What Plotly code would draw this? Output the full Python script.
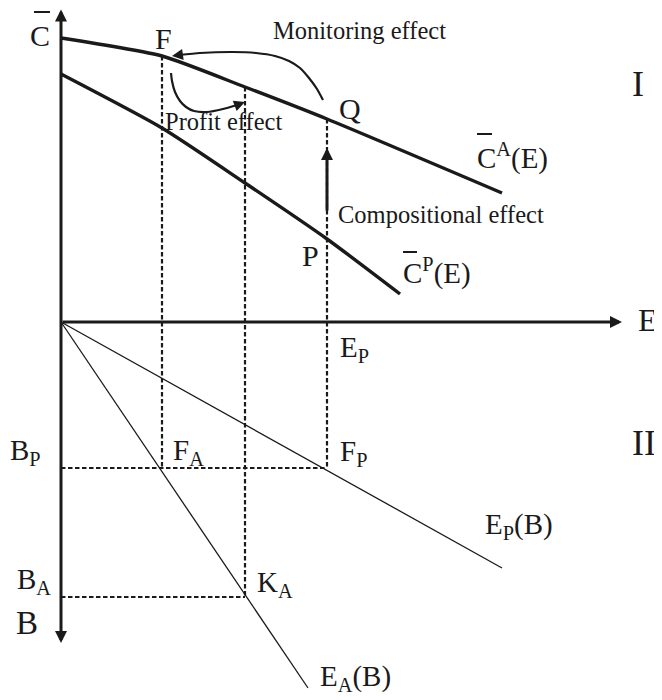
import plotly.graph_objects as go

# ---------------- data (diagram units: E to the right, C up, B down) ----------------
E_CA = [0, 101, 184, 266, 441]
C_A = [284, 266, 235, 203, 129]          # C-bar^A(E)
E_CP = [0, 101, 184, 266, 339]
C_P = [248, 194, 139, 83, 28]            # C-bar^P(E)

E_EP = [0, 441]
B_EP = [0, -246]                         # E_P(B)
E_EA = [0, 247]
B_EA = [0, -366]                         # E_A(B)

E_F, E_K, E_Pv = 101, 184, 266           # F, K_A, E_P positions on E axis
B_Pv, B_Av = -146, -275                  # B_P, B_A positions on B axis

# monitoring effect curve (Q -> F) and profit effect curve
MON_E = [262, 256, 248, 239, 228, 214, 195, 172, 139, 118]
MON_C = [222, 233, 244, 254, 261, 266, 269, 270, 269, 267]
PRO_E = [110, 111, 114, 119, 125, 133, 146, 162, 176]
PRO_C = [249, 241, 230, 221, 215, 211, 210, 213, 217]

INK = "#1a1a1a"
FONT = "Liberation Serif, Times New Roman, serif"

fig = go.Figure()

def line(x, y, w, dash=None, spline=True):
    fig.add_trace(go.Scatter(x=x, y=y, mode="lines",
                             line=dict(color=INK, width=w, dash=dash,
                                       shape="spline" if spline else "linear",
                                       smoothing=0.6),
                             hoverinfo="skip"))

DASH = "4.5px,2.5px"
# dashed guide lines
line([E_F, E_F], [C_A[1], B_Pv], 2.2, DASH, False)
line([E_K, E_K], [C_A[2], B_Av], 2.2, DASH, False)
line([E_Pv, E_Pv], [C_A[3], B_Pv], 2.2, DASH, False)
line([0, E_Pv], [B_Pv, B_Pv], 2.2, DASH, False)
line([0, E_K], [B_Av, B_Av], 2.2, DASH, False)

# main curves
line(E_CA, C_A, 3.4)
line(E_CP, C_P, 3.4)
line(E_EP, B_EP, 1.3, None, False)
line(E_EA, B_EA, 1.3, None, False)
line(MON_E, MON_C, 2.2)
line(PRO_E, PRO_C, 2.2)

ann = []
def arrow(x0, y0, x1, y1, w, side="end", size=1.0):
    ann.append(dict(x=x1, y=y1, ax=x0, ay=y0, xref="x", yref="y",
                    axref="x", ayref="y", text="", showarrow=True,
                    arrowhead=2, arrowsize=size, arrowwidth=w,
                    arrowcolor=INK, arrowside=side, startarrowhead=2,
                    startarrowsize=size))

# axes
arrow(0, 314, 0, -321, 3, side="end+start", size=0.8)
arrow(0, 0, 561, 0, 3, size=0.8)
# compositional effect arrow
arrow(E_Pv, 110, E_Pv, 174, 3, size=0.8)
# heads for the curved arrows
arrow(MON_E[-1], MON_C[-1], 111, 266, 2.2, size=1.0)
arrow(PRO_E[-1], PRO_C[-1], 184, 220, 2.2, size=1.0)

def txt(x, y, s, size=30, anchor="center"):
    ann.append(dict(x=x, y=y, xref="x", yref="y", text=s, showarrow=False,
                    xanchor=anchor, yanchor="middle",
                    font=dict(family=FONT, size=size, color=INK)))

EFF = 24.5
txt(-21, 287, "C")
txt(102, 284, "F")
txt(298, 292, "Monitoring effect", EFF)
txt(289, 214, "Q")
txt(577, 238, "I", 36)
txt(162, 201, "Profit effect", EFF)
txt(414, 166, "C<sup>A</sup>(E)", 29, "left")
txt(275, 108, "Compositional effect", EFF, "left")
txt(249, 67, "P")
txt(340, 51, "C<sup>P</sup>(E)", 29, "left")
txt(587, 2, "E", 32)
txt(277, -27, "E<sub>P</sub>", 29, "left")
txt(-53, -130, "B<sub>P</sub>", 29, "left")
txt(110, -130, "F<sub>A</sub>", 29, "left")
txt(277, -131, "F<sub>P</sub>", 29, "left")
txt(583, -121, "II", 36)
txt(422, -204, "E<sub>P</sub>(B)", 29, "left")
txt(-46, -259, "B<sub>A</sub>", 29, "left")
txt(194, -262, "K<sub>A</sub>", 29, "left")
txt(-34, -301, "B", 33)
txt(257, -356, "E<sub>A</sub>(B)", 29, "left")

shapes = []
for x0, x1, y in [(-27, -11, 310), (416, 431, 188), (342, 356, 70)]:
    shapes.append(dict(type="line", xref="x", yref="y", x0=x0, x1=x1, y0=y, y1=y,
                       line=dict(color=INK, width=2)))

# page body adds an 8px margin: the figure is 8px smaller and ranges shifted
fig.update_layout(
    width=654, height=692, margin=dict(l=0, r=0, t=0, b=0),
    paper_bgcolor="white", plot_bgcolor="white", showlegend=False,
    xaxis=dict(range=[-53, 601], visible=False, fixedrange=True),
    yaxis=dict(range=[-378, 314], visible=False, fixedrange=True),
    annotations=ann, shapes=shapes,
)

fig.write_html("out.html")
